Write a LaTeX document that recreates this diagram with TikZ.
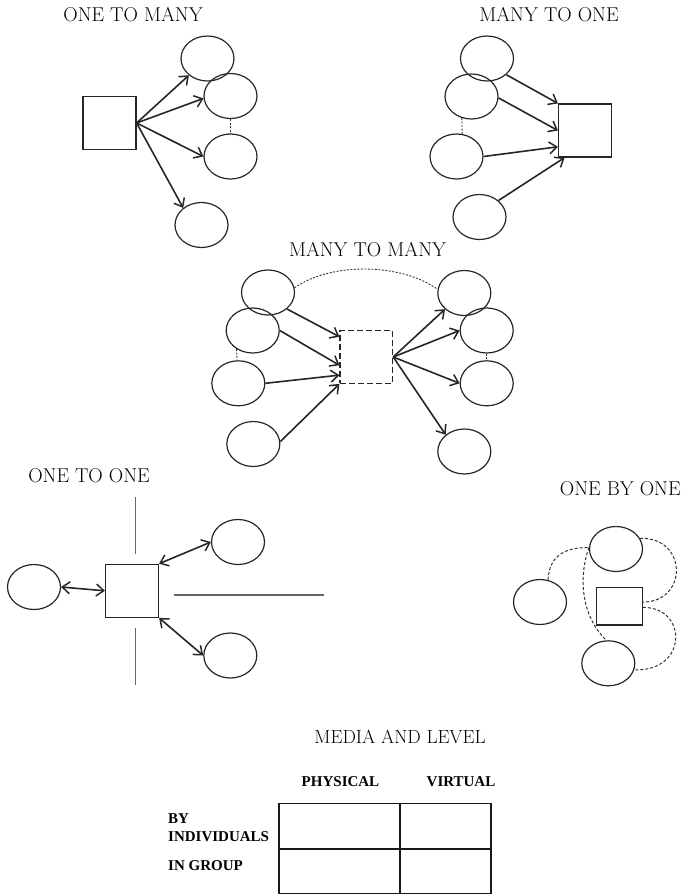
\documentclass[tikz,border=0pt]{standalone}
\usepackage{fontspec}
\newfontfamily\boldlab{Liberation Serif}
\usetikzlibrary{shapes.geometric,arrows.meta}
\begin{document}
\begin{tikzpicture}[x=1pt,y=-1pt,
  ell/.style={draw=black!85,line width=1.2pt,ellipse,minimum width=53pt,minimum height=45pt,inner sep=0pt},
  sqr/.style={draw=black!85,line width=1.2pt,rectangle,minimum size=53pt,inner sep=0pt},
  tip/.tip={Straight Barb[length=7.5pt,width=12pt,line width=1.5pt]},
  arr/.style={draw=black!85,line width=1.6pt,-tip},
  darr/.style={draw=black!85,line width=1.6pt,tip-tip},
  dots/.style={draw=black!80,line width=0.9pt,dash pattern=on 2pt off 1.5pt},
  dsh/.style={draw=black!80,line width=1pt,dash pattern=on 3pt off 2pt},
  ttl/.style={font=\fontsize{20}{24}\selectfont,anchor=base,inner sep=0pt},
  lab/.style={font=\boldlab\bfseries\fontsize{15}{18}\selectfont,inner sep=0pt},
  gline/.style={draw=black!60,line width=1.5pt},
  cell/.style={draw=black!90,line width=1.1pt}
]
\useasboundingbox (0,0) rectangle (692,895);

% ---------- ONE TO MANY ----------
\node[ttl] (t1) at (133,21.7) {ONE TO MANY};
\node[sqr] (s1) at (109.5,123) {};
\node[ell] (m1) at (207.5,58.5) {};
\node[ell] (m2) at (230.5,96) {};
\node[ell] (m3) at (230.5,156.5) {};
\node[ell] (m4) at (201.5,225) {};
\draw[dots] (m2.south) -- (m3.north);
\draw[arr] (s1.east) -- (m1.222);
\draw[arr] (s1.east) -- (m2.185);
\draw[arr] (s1.east) -- (m3.west);
\draw[arr] (s1.east) -- (m4.137);

% ---------- MANY TO ONE ----------
\node[ttl] (t2) at (549,21.7) {MANY TO ONE};
\node[sqr] (s2) at (585,130.5) {};
\node[ell] (n1) at (487,58.5) {};
\node[ell] (n2) at (471.5,96.5) {};
\node[ell] (n3) at (456.5,156.5) {};
\node[ell] (n4) at (479.5,217) {};
\draw[dots] (n2.246) -- (n3.76);
\draw[arr] (n1.-40) -- (s2.north west);
\draw[arr] (n2.-3) -- (s2.west);
\draw[arr] (n3.east) -- (s2.211);
\draw[arr] (n4.41) -- (s2.233);

% ---------- MANY TO MANY ----------
\node[ttl] (t3) at (367.5,256) {MANY TO MANY};
\node[draw=black!85,line width=1.2pt,dash pattern=on 6pt off 3pt,rectangle,minimum size=52.6pt,inner sep=0pt] (s3) at (366.3,357) {};
\node[ell] (l1) at (268,292.5) {};
\node[ell] (l2) at (252.7,330.5) {};
\node[ell] (l3) at (238.3,383.3) {};
\node[ell] (l4) at (253.3,444) {};
\node[ell] (r1) at (464.3,293) {};
\node[ell] (r2) at (486.7,330.5) {};
\node[ell] (r3) at (486.7,383.3) {};
\node[ell] (r4) at (464.3,451.5) {};
\draw[dots] (l1.10) .. controls (330,262.5) and (400,262.5) .. (r1.172);
\draw[dots] (l2.229) -- (l3.93);
\draw[dots] (r2.south) -- (r3.north);
\draw[arr] (l1.-41) -- (s3.143);
\draw[arr] (l2.east) -- (s3.197);
\draw[arr] (l3.east) -- (s3.214);
\draw[arr] (l4.5) -- (s3.south west);
\draw[arr] (s3.east) -- (r1.220);
\draw[arr] (s3.east) -- (r2.west);
\draw[arr] (s3.east) -- (r3.west);
\draw[arr] (s3.east) -- (r4.138);

% ---------- ONE TO ONE ----------
\node[ttl] (t4) at (89,482.7) {ONE TO ONE};
\node[sqr] (s4) at (132,590.8) {};
\node[ell] (o1) at (34,587) {};
\node[ell] (o2) at (238,542) {};
\node[ell] (o3) at (230.3,655.5) {};
\draw[gline] (135.7,497.3) -- (135.7,554.3);
\draw[gline] (135.7,628.3) -- (135.7,685);
\draw[gline] (174.3,595) -- (324.3,595);
\draw[darr] (o1.east) -- (s4.west);
\draw[darr] (s4.north east) -- (o2.west);
\draw[darr] (s4.south east) -- (o3.west);

% ---------- ONE BY ONE ----------
\node[ttl] (t5) at (620.3,495) {ONE BY ONE};
\node[draw=black!85,line width=1.2pt,rectangle,minimum width=45.7pt,minimum height=37.7pt,inner sep=0pt] (s5) at (619.5,606.2) {};
\node[ell] (b1) at (616,549) {};
\node[ell] (b2) at (540,602) {};
\node[ell] (b3) at (608.3,663.3) {};
\draw[dsh] (b2.70) .. controls (549,560) and (560,547) .. (b1.177);
\draw[dsh] (b1.177) .. controls (579,575) and (580,615) .. (b3.95);
\draw[dsh] (b1.24) .. controls (688,537) and (688,602) .. (s5.10);
\draw[dsh] (s5.-3) .. controls (688,607) and (688,672) .. (b3.-14);

% ---------- MEDIA AND LEVEL ----------
\node[ttl,font=\fontsize{19}{23}\selectfont] (t6) at (400,743.3) {MEDIA AND LEVEL};
\node[lab,anchor=base] (h1) at (340.5,786) {PHYSICAL};
\node[lab,anchor=base] (h2) at (461,786) {VIRTUAL};
\node[cell,minimum width=121pt,minimum height=45.7pt,inner sep=0pt] (c11) at (339.5,826.15) {};
\node[cell,minimum width=91pt,minimum height=45.7pt,inner sep=0pt] (c12) at (445.5,826.15) {};
\node[cell,minimum width=121pt,minimum height=44.5pt,inner sep=0pt] (c21) at (339.5,871.25) {};
\node[cell,minimum width=91pt,minimum height=44.5pt,inner sep=0pt] (c22) at (445.5,871.25) {};
\node[lab,anchor=base west] (g1) at (168,823.3) {BY};
\node[lab,anchor=base west] (g2) at (168,841) {INDIVIDUALS};
\node[lab,anchor=base west] (g3) at (168,870) {IN GROUP};
\end{tikzpicture}
\end{document}
